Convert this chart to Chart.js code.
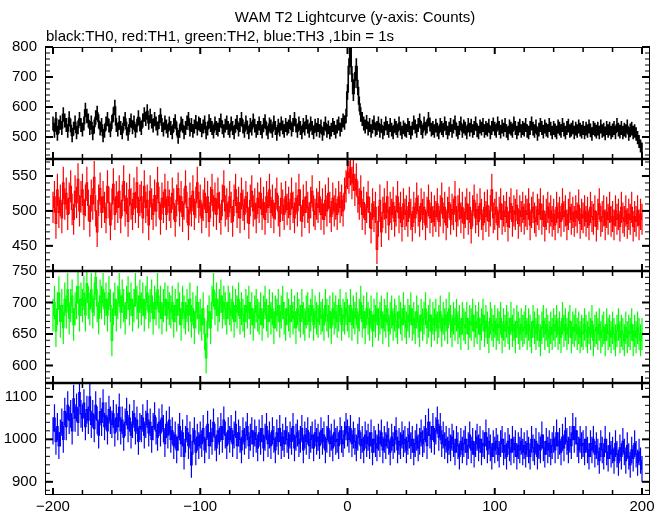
<!DOCTYPE html>
<html><head><meta charset="utf-8">
<script src="https://cdn.jsdelivr.net/npm/chart.js@4/dist/chart.umd.min.js"></script>
<style>html,body{margin:0;padding:0;background:#fff}#wrap{width:669px;height:515px;position:relative}</style>
</head><body><div id="wrap"><canvas id="c"></canvas></div>
<script>
// time bins (1 bin = 1 s), -200 .. 200
const timeBins = Array.from({length: 401}, (_, i) => i - 200);

// TH0 (black) counts per bin
const th0 = [
545,520,560,510,535,548,530,575,555,540,520,562,538,505,528,548,515,532,560,540,
525,545,590,570,555,530,548,512,535,565,580,552,528,540,505,520,545,560,538,522,
550,575,600,540,525,548,530,515,545,560,528,510,540,555,532,548,520,538,565,542,
530,555,575,560,585,548,570,552,538,560,545,528,550,572,540,525,548,535,520,545,
530,515,540,552,528,500,520,545,538,515,530,548,560,525,540,520,535,550,528,545,
540,522,535,548,515,528,552,540,530,518,545,530,525,540,555,532,520,538,548,530,
520,545,530,515,538,550,525,540,560,535,520,548,532,515,540,528,555,538,520,530,
545,530,518,540,552,528,515,542,535,520,548,530,510,538,525,545,532,520,540,528,
535,550,525,540,560,538,520,545,530,515,540,528,550,535,520,545,530,515,538,525,
540,520,535,510,528,545,520,532,515,525,540,530,518,535,545,525,540,555,548,570,
650,735,800,710,645,690,735,665,610,575,560,545,535,550,528,540,520,535,548,525,
530,545,520,538,515,528,545,530,520,540,525,515,538,530,520,545,528,515,532,525,
520,540,530,515,528,548,535,520,540,555,530,518,545,528,535,560,542,525,530,520,
538,525,515,540,530,522,545,530,515,528,540,520,535,548,525,515,530,545,520,535,
528,515,540,525,538,520,530,545,522,515,535,528,540,520,530,525,538,515,530,542,
528,520,545,530,518,535,525,540,520,512,535,528,520,545,530,515,528,538,520,530,
525,540,520,515,530,545,528,520,535,510,525,540,530,518,535,525,520,540,528,515,
530,522,515,535,528,520,540,525,515,530,538,520,525,532,515,528,520,535,525,518,
530,515,528,520,535,522,510,530,525,518,528,515,535,520,525,512,530,520,528,515,
522,530,515,540,525,518,530,515,525,520,535,510,522,528,515,520,510,498,485,470,
460];

// TH1 (red)
const th1 = [
505,520,482,530,498,515,490,540,510,525,495,518,535,502,488,528,512,545,500,520,
530,495,515,540,508,485,522,510,548,500,470,515,532,498,520,505,490,535,512,480,
510,538,495,520,505,528,490,515,542,500,518,485,530,510,495,525,505,540,498,515,
520,490,535,505,515,480,528,510,495,522,500,540,512,488,518,505,530,495,520,508,
498,525,510,485,515,532,500,520,492,510,535,505,480,518,500,528,495,512,540,505,
515,490,508,525,498,520,485,512,530,500,518,495,525,505,488,515,535,500,510,492,
520,505,485,515,530,498,512,490,525,508,495,520,505,482,515,528,500,510,490,518,
505,525,495,512,488,520,505,530,498,515,490,510,525,500,485,518,508,495,520,502,
512,495,525,505,490,518,500,530,508,485,515,498,520,505,490,512,528,500,495,510,
505,520,495,510,488,515,500,525,505,492,518,500,510,495,520,505,515,500,525,535,
555,548,560,540,552,530,545,520,510,528,495,512,488,505,520,498,475,510,492,505,
445,485,515,470,498,510,490,520,480,505,495,512,485,500,520,490,505,478,510,495,
500,485,512,495,478,505,490,518,500,485,510,495,505,480,498,515,490,505,485,500,
492,510,485,500,518,490,505,480,498,512,488,502,495,520,485,500,510,490,505,482,
498,510,488,505,475,500,515,490,502,485,510,495,480,505,492,508,485,500,530,490,
495,505,480,498,510,488,500,492,505,478,498,510,485,500,495,508,482,500,492,505,
488,500,495,510,480,498,505,490,485,502,495,510,488,500,478,495,505,490,500,485,
495,480,505,490,498,485,510,492,500,480,495,505,488,498,485,500,490,508,482,495,
490,500,485,498,480,505,492,488,500,478,495,510,485,492,500,480,498,488,505,485,
492,480,500,488,495,478,505,490,485,500,482,495,488,505,478,492,485,500,480,495,
488];

// TH2 (green)
const th2 = [
680,700,655,690,715,670,695,660,705,685,720,675,695,710,665,690,700,725,680,705,
695,715,680,730,700,690,720,685,705,740,695,675,710,700,720,690,705,680,715,695,
640,690,705,680,700,720,685,710,695,675,700,715,690,705,680,695,720,700,685,710,
690,705,680,700,715,685,695,710,675,700,690,720,685,700,675,695,705,680,700,690,
685,700,670,695,680,705,690,665,700,685,675,695,680,705,670,690,660,685,700,675,
680,665,690,650,612,670,685,660,700,720,690,705,680,695,710,685,700,690,675,700,
690,680,700,670,695,685,705,675,690,680,670,695,685,700,675,690,665,685,695,680,
675,690,665,685,700,680,670,695,675,690,660,685,680,695,670,685,700,675,665,690,
680,670,695,675,685,660,690,680,670,695,675,665,685,690,670,680,695,665,685,675,
670,690,675,680,665,695,680,670,685,660,690,675,685,670,680,695,665,680,675,690,
680,670,695,665,685,675,690,660,680,700,670,685,660,690,675,665,685,655,680,670,
690,665,675,685,660,680,670,690,655,675,685,665,680,670,660,685,675,665,690,670,
660,680,670,690,665,675,660,685,670,655,680,665,675,690,660,670,680,655,675,665,
680,660,670,685,655,675,665,680,660,690,670,655,675,665,680,660,670,650,675,665,
660,675,650,670,665,680,655,670,660,675,650,665,680,655,670,660,645,675,665,655,
670,650,665,660,675,645,665,655,670,660,650,675,655,665,645,670,660,650,665,655,
660,670,650,665,655,645,670,660,650,665,655,640,660,670,650,665,655,645,660,650,
665,655,670,650,660,645,675,655,665,650,660,670,645,660,655,665,650,660,645,655,
650,665,655,645,660,650,670,640,655,660,650,665,645,655,660,640,665,650,655,645,
660,650,640,655,665,645,655,650,640,660,645,655,650,665,640,655,645,660,650,640,
650];

// TH3 (blue)
const th3 = [
1020,1050,995,1030,985,1015,1040,1000,1065,1030,1080,1045,1060,1020,1095,1050,1075,1040,1110,1060,
1050,1085,1030,1070,1045,1100,1035,1060,1025,1080,1045,1010,1065,1040,1085,1030,1055,1020,1070,1045,
1035,1060,1015,1050,1030,1075,1020,1045,1005,1040,1065,1025,1050,1010,1035,1060,1020,1045,995,1030,
1025,1050,1010,1035,1060,1015,1040,1000,1030,1055,1020,1005,1040,1015,1050,1025,990,1035,1010,1045,
1000,1020,985,1010,975,1005,1030,990,1015,960,1000,1025,985,1010,940,995,1020,970,1005,985,
1010,990,1025,975,1000,1035,985,1015,995,1040,1005,980,1020,995,1030,1000,1045,1010,985,1020,
1000,1025,990,1010,1035,985,1015,1000,975,1020,995,1010,1030,985,1005,1020,990,1015,1000,980,
1015,995,1025,980,1005,1030,990,1010,985,1020,1000,975,1015,995,1025,985,1005,990,1020,1000,
985,1010,995,1030,980,1005,1015,990,1000,1025,975,1010,995,1020,985,1000,1010,980,1015,995,
1005,985,1020,995,1010,975,1000,1025,990,1005,980,1015,995,1000,985,1020,1000,990,1010,1030,
1015,1000,1025,990,1010,995,980,1005,1020,985,1000,975,1010,990,1005,985,1015,970,1000,990,
980,1005,990,1015,975,1000,985,1010,995,970,1005,985,1000,1020,975,995,985,1010,990,1000,
975,995,1010,985,1000,970,990,1005,980,995,1015,990,1000,1025,985,1040,1010,1000,1030,995,
1020,1045,1005,1030,990,1010,985,1000,975,995,980,1005,990,970,1000,985,960,995,975,990,
1000,970,985,1010,975,995,965,990,1005,980,1000,970,990,985,1015,975,995,980,960,990,
975,995,980,965,990,1000,970,985,960,995,980,970,1000,975,990,960,985,975,995,970,
985,965,990,975,960,1000,980,970,995,960,985,975,1010,980,965,995,975,990,970,985,
1000,975,1015,985,995,970,1005,980,1020,995,975,1000,985,1030,1000,1020,990,975,1000,985,
990,970,1000,975,960,990,975,1000,965,985,970,950,990,975,960,1000,970,955,985,965,
975,950,990,965,945,980,960,995,970,950,985,960,940,975,955,990,965,945,970,950,
930];

// tick labels
const xTickValues = [-200, -100, 0, 100, 200];
const th0Ticks = [500, 600, 700, 800];
const th1Ticks = [450, 500, 550];
const th2Ticks = [600, 650, 700, 750];
const th3Ticks = [900, 1000, 1100];

const titleText = 'WAM T2 Lightcurve (y-axis: Counts)';
const subtitleText = 'black:TH0, red:TH1, green:TH2, blue:TH3 ,1bin = 1s';

const FONT = '"Liberation Sans", Arial, Helvetica, sans-serif';

const panels = [
  {id: 'y0', data: th0, ticks: th0Ticks, color: '#000000', lw: 1.6, min: 426.7, max: 800, minor: 20},
  {id: 'y1', data: th1, ticks: th1Ticks, color: '#ff0000', lw: 1.2, min: 414, max: 574.3, minor: 10},
  {id: 'y2', data: th2, ticks: th2Ticks, color: '#00ff00', lw: 1.2, min: 572.2, max: 750, minor: 10},
  {id: 'y3', data: th3, ticks: th3Ticks, color: '#0000ff', lw: 1.2, min: 869, max: 1132.5, minor: 20}
];

const scales = {
  x: {
    type: 'linear', min: -205.43, max: 205.43,
    grid: {display: false, drawTicks: false}, border: {display: false},
    afterBuildTicks: s => { s.ticks = xTickValues.map(v => ({value: v})); },
    afterFit: s => { s.height = 20; },
    ticks: {
      padding: 3, color: '#000', maxRotation: 0, autoSkip: false,
      font: {family: FONT, size: 15},
      callback: v => String(v).replace('-', '\u2212')
    }
  }
};
// stacked scales are laid out bottom-first, so declare the lowest panel first
panels.slice().reverse().forEach(p => {
  scales[p.id] = {
    type: 'linear', position: 'left', stack: 'panels', stackWeight: 1,
    min: p.min, max: p.max,
    grid: {display: false, drawTicks: false}, border: {display: false},
    afterBuildTicks: s => { s.ticks = p.ticks.map(v => ({value: v})); },
    afterFit: s => { s.width = 45; },
    ticks: {padding: 8, color: '#000', autoSkip: false, font: {family: FONT, size: 15},
            callback: v => String(v)}
  };
});

const errorBars = {
  id: 'errorBars',
  afterDatasetDraw(chart, args) {
    const p = panels[args.index];
    const xs = chart.scales.x, ys = chart.scales[p.id];
    const ctx = chart.ctx;
    ctx.save();
    ctx.beginPath();
    ctx.rect(xs.left, ys.top, xs.right - xs.left, ys.bottom - ys.top);
    ctx.clip();
    ctx.strokeStyle = p.color;
    ctx.lineWidth = p.lw;
    ctx.beginPath();
    p.data.forEach((v, k) => {
      const e = Math.sqrt(v);
      const x = xs.getPixelForValue(timeBins[k]);
      ctx.moveTo(x, ys.getPixelForValue(v + e));
      ctx.lineTo(x, ys.getPixelForValue(v - e));
    });
    ctx.stroke();
    ctx.restore();
  }
};

const frame = {
  id: 'frame',
  afterDraw(chart) {
    const ctx = chart.ctx, xs = chart.scales.x;
    const L = xs.left, R = xs.right;
    ctx.save();
    ctx.strokeStyle = '#000';
    const seg = (x1, y1, x2, y2) => { ctx.beginPath(); ctx.moveTo(x1, y1); ctx.lineTo(x2, y2); ctx.stroke(); };
    panels.forEach(p => {
      const ys = chart.scales[p.id];
      const T = ys.top, B = ys.bottom;
      for (let v = Math.ceil(p.min / p.minor) * p.minor; v <= p.max + 0.01; v += p.minor) {
        const y = ys.getPixelForValue(v);
        const major = p.ticks.includes(v);
        ctx.lineWidth = major ? 2 : 1;
        const len = major ? 8 : 5;
        seg(L, y, L + len, y);
        seg(R, y, R - len, y);
      }
      for (let t = -200; t <= 200; t += 20) {
        const x = xs.getPixelForValue(t);
        const major = (t % 100 === 0);
        ctx.lineWidth = major ? 2 : 1.5;
        const len = major ? 7 : 5;
        seg(x, T, x, T + len);
        seg(x, B, x, B - len);
      }
    });
    const top = chart.scales[panels[0].id].top;
    const bottom = chart.scales[panels[panels.length - 1].id].bottom;
    ctx.lineWidth = 1;
    ctx.strokeRect(L + 0.5, top + 0.5, R - L - 1, bottom - top - 1);
    ctx.lineWidth = 2.5;
    for (let i = 1; i < panels.length; i++) {
      const y = chart.scales[panels[i].id].top;
      seg(L, y, R, y);
    }
    // titles
    ctx.fillStyle = '#000';
    ctx.font = '15px ' + FONT;
    ctx.textBaseline = 'alphabetic';
    ctx.textAlign = 'center';
    ctx.fillText(titleText, 355, 22);
    ctx.textAlign = 'left';
    ctx.fillText(subtitleText, 46, 41);
    ctx.restore();
  }
};

new Chart(document.getElementById('c'), {
  type: 'line',
  data: {
    datasets: panels.map(p => ({
      data: p.data.map((v, k) => ({x: timeBins[k], y: v})),
      yAxisID: p.id, xAxisID: 'x',
      borderColor: p.color, borderWidth: p.lw,
      pointRadius: 0, tension: 0, stepped: 'middle', fill: false
    }))
  },
  options: {
    responsive: true, maintainAspectRatio: false, animation: false,
    layout: {padding: {left: 0, right: 19, top: 47, bottom: 0}},
    plugins: {legend: {display: false}, title: {display: false}, tooltip: {enabled: false}},
    scales
  },
  plugins: [errorBars, frame]
});
</script></body></html>
